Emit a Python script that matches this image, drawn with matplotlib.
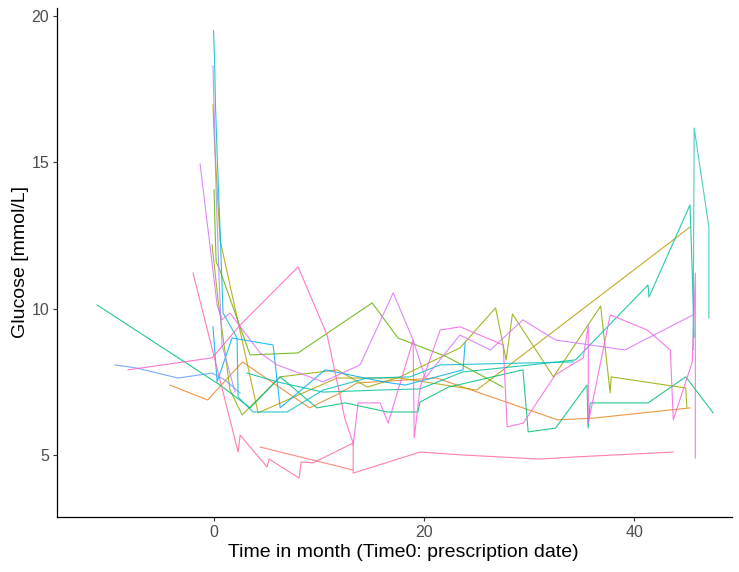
import matplotlib.pyplot as plt

plt.rcParams['font.family'] = ['Liberation Sans', 'DejaVu Sans']

# one line per patient: months since prescription, glucose (mmol/L)
p01_t = [4.4, 13.2]
p01_v = [5.27, 4.49]
p02_t = [-4.2, -0.6, 2.7, 9.1, 12.0, 13.6, 21.2, 32.7, 36.1, 45.3]
p02_v = [7.39, 6.88, 8.18, 6.61, 7.12, 7.46, 7.63, 6.20, 6.26, 6.61]
p03_t = [-0.1, 0.0, 0.19, 0.57, 4.19, 11.7, 17.7, 25.0, 45.3]
p03_v = [16.97, 16.0, 14.74, 12.35, 6.44, 7.63, 7.63, 7.22, 12.79]
p04_t = [-0.19, 0.38, 1.52, 2.67, 6.29, 11.7, 14.6, 17.7, 23.4, 26.8, 27.8, 28.4,
         32.3, 36.8, 37.7, 37.8, 44.9, 45.0]
p04_v = [12.18, 10.3, 7.22, 6.37, 7.67, 7.91, 7.32, 7.67, 8.66, 10.03, 8.25, 9.82,
         7.67, 10.09, 7.12, 7.67, 7.29, 6.64]
p05_t = [0.0, 0.1, 0.2, 0.57, 3.43, 8.0, 15.05, 17.5, 22.2, 27.5]
p05_v = [14.06, 12.69, 11.6, 11.3, 8.42, 8.49, 10.2, 9.0, 8.35, 7.32]
p06_t = [-11.14, 0.57, 3.43, 6.29, 9.8, 12.5, 16.5, 19.4, 19.6, 22.3, 29.4, 29.9,
         32.5, 35.5, 35.6, 35.8, 41.3, 44.9, 47.5]
p06_v = [10.13, 7.39, 6.61, 7.67, 6.61, 6.78, 6.47, 6.47, 6.81, 7.32, 7.91, 5.79,
         5.92, 7.39, 5.92, 6.78, 6.78, 7.67, 6.44]
p07_t = [3.14, 6.0, 10.38, 15.8, 19.6, 23.7, 29.1, 34.4, 41.3, 41.4, 45.3, 45.5, 45.7]
p07_v = [7.80, 7.50, 7.15, 7.22, 7.26, 7.84, 8.04, 8.25, 10.81, 10.4, 13.55, 11.43, 9.03]
p08_t = [-0.05, 0.05, 0.14, 0.29, 0.57, 0.86, 2.19, 2.29, 3.71, 6.95, 10.38, 14.57,
         18.67, 21.5, 34.2]
p08_v = [19.5, 18.5, 16.9, 15.3, 12.7, 9.85, 9.0, 6.98, 6.47, 6.47, 7.22, 7.63,
         7.67, 8.08, 8.18]
p09_t = [45.6, 45.7, 47.1, 47.1]
p09_v = [8.59, 16.18, 12.79, 9.68]
p10_t = [-0.1, 0.29, 1.71, 5.62, 6.29, 10.57, 16.1, 18.2, 23.7, 23.9]
p10_v = [9.38, 7.5, 9.0, 8.76, 6.61, 7.91, 7.5, 7.39, 7.91, 8.83]
p11_t = [-9.43, -7.33, -3.43, -0.19, 1.05, 2.48]
p11_v = [8.08, 7.97, 7.63, 7.8, 7.56, 7.12]
p12_t = [-0.1, 0.19, 0.48, 0.76, 2.0]
p12_v = [18.3, 14.06, 11.0, 8.76, 7.15]
p13_t = [-1.33, 0.29, 0.76, 1.52, 4.38, 6.0, 10.38, 13.9, 17.05, 18.95, 20.1, 23.4,
         26.3, 29.4, 32.5, 39.1, 45.6]
p13_v = [14.95, 10.13, 9.62, 9.85, 8.49, 8.08, 7.50, 8.08, 10.54, 8.93, 7.63, 9.10,
         8.59, 9.62, 8.93, 8.59, 9.79]
p14_t = [13.24, 13.71, 15.81, 16.57, 18.95, 19.05, 19.62, 21.52, 23.43, 27.52, 27.9,
         29.43, 32.48, 35.14, 35.62, 35.62, 37.71, 41.24, 43.43, 43.71, 45.52, 45.81, 45.81]
p14_v = [5.34, 6.78, 6.78, 6.09, 8.93, 5.58, 7.32, 9.27, 9.38, 8.76, 5.96,
         6.09, 7.74, 8.32, 9.44, 6.09, 9.79, 9.27, 8.59, 6.2, 8.18, 11.22, 4.9]
p15_t = [-8.19, -0.19, 2.48, 8.0, 10.76, 12.48, 13.24]
p15_v = [7.91, 8.32, 9.44, 11.43, 9.1, 6.2, 5.41]
p16_t = [-2.0, 2.29, 2.48, 5.05, 5.24, 8.10, 8.29, 9.43, 13.24, 13.24, 19.6, 23.7,
         31.0, 34.2, 43.7]
p16_v = [11.22, 5.10, 5.68, 4.59, 4.86, 4.21, 4.76, 4.73, 5.41, 4.38, 5.10, 5.0,
         4.86, 4.93, 5.10]

patients = [(p01_t, p01_v), (p02_t, p02_v), (p03_t, p03_v), (p04_t, p04_v),
            (p05_t, p05_v), (p06_t, p06_v), (p07_t, p07_v), (p08_t, p08_v),
            (p09_t, p09_v), (p10_t, p10_v), (p11_t, p11_v), (p12_t, p12_v),
            (p13_t, p13_v), (p14_t, p14_v), (p15_t, p15_v), (p16_t, p16_v)]

# ggplot-like hue palette
colors = ['#F8766D', '#E88526', '#B79F00', '#93AA00', '#5EB300', '#00BF74',
          '#00C19F', '#00BFC4', '#2EC4B6', '#00ADFA', '#619CFF', '#AE87FF',
          '#DB72FB', '#F564E3', '#FF61C3', '#FF67A4']

fig = plt.figure(figsize=(7.39, 5.72), dpi=100)
ax = fig.add_axes([57 / 739, 1 - 517 / 572, (732 - 57) / 739, (517 - 8) / 572])

for (t, v), c in zip(patients, colors):
    ax.plot(t, v, color=c, lw=0.8, alpha=0.85)

ax.set_xlim(-14.95, 49.3)
ax.set_ylim(2.88, 20.28)
ax.set_xticks([0, 20, 40])
ax.set_yticks([5, 10, 15, 20])

for s in ['top', 'right']:
    ax.spines[s].set_visible(False)
for s in ['left', 'bottom']:
    ax.spines[s].set_linewidth(0.9)

ax.tick_params(length=3, width=0.8, color='#333333', labelcolor='#4D4D4D',
               labelsize=11.5, pad=2.5)
ax.set_xlabel('Time in month (Time0: prescription date)', fontsize=14)
ax.set_ylabel('Glucose [mmol/L]', fontsize=14)
ax.xaxis.set_label_coords(0.513, -0.053)
ax.yaxis.set_label_coords(-0.042, 0.5)

fig.savefig('out.png', dpi=100)
